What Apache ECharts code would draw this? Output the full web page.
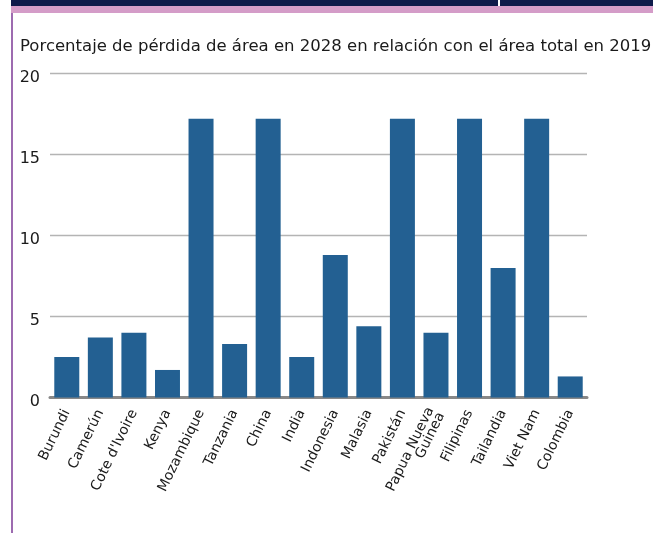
<!DOCTYPE html>
<html>
<head>
<meta charset="utf-8">
<style>
  html, body { margin: 0; padding: 0; background: #fff; }
  #chart { width: 653px; height: 533px; }
</style>
<script src="https://cdn.jsdelivr.net/npm/echarts@6/dist/echarts.min.js"></script>
</head>
<body>
<div id="chart"></div>
<script>
// Países evaluados
const categories = [
  'Burundi', 'Camerún', "Cote d'Ivoire", 'Kenya', 'Mozambique', 'Tanzania',
  'China', 'India', 'Indonesia', 'Malasia', 'Pakistán', 'Papua Nueva\nGuinea',
  'Filipinas', 'Tailandia', 'Viet Nam', 'Colombia'
];

// Pérdida de área en 2028 (% del área total en 2019)
const lossPercent = [2.5, 3.7, 4.0, 1.7, 17.2, 3.3, 17.2, 2.5, 8.8, 4.4, 17.2, 4.0, 17.2, 8.0, 17.2, 1.3];

// Marcas del eje vertical
const yTicks = [0, 5, 10, 15, 20];

const FONT = '"DejaVu Sans", "Open Sans", sans-serif';

const chart = echarts.init(document.getElementById('chart'), null, { renderer: 'canvas' });

chart.setOption({
  animation: false,
  backgroundColor: '#ffffff',
  title: {
    text: 'Porcentaje de pérdida de área en 2028 en relación con el área total en 2019',
    left: 15,
    top: 33,
    textStyle: { fontFamily: FONT, fontSize: 16.5, fontWeight: 'normal', color: '#1a1a1a' }
  },
  graphic: [
    // banda superior
    { type: 'rect', shape: { x: 11, y: 0, width: 642, height: 6 }, style: { fill: '#0e1a4a' }, silent: true },
    { type: 'rect', shape: { x: 11, y: 6, width: 642, height: 7 }, style: { fill: '#d49cc8' }, silent: true },
    // borde lateral
    { type: 'rect', shape: { x: 11, y: 13, width: 2, height: 520 }, style: { fill: '#9d6bb0' }, silent: true },
    // trazo del encabezado cortado
    { type: 'rect', shape: { x: 498, y: 0, width: 2, height: 6 }, style: { fill: '#ffffff' }, silent: true }
  ],
  grid: { left: 50, right: 66, top: 73.5, bottom: 135.5 },
  xAxis: {
    type: 'category',
    data: categories,
    axisLine: { show: true, lineStyle: { color: '#888888', width: 3 } },
    axisTick: { show: false },
    axisLabel: {
      interval: 0,
      rotate: 64,
      margin: 13,
      fontFamily: FONT,
      fontSize: 14,
      lineHeight: 12,
      color: '#1a1a1a'
    }
  },
  yAxis: {
    type: 'value',
    min: yTicks[0],
    max: yTicks[yTicks.length - 1],
    interval: yTicks[1] - yTicks[0],
    axisLine: { show: false },
    axisTick: { show: false },
    splitLine: { lineStyle: { color: '#b4b4b4', width: 1.3 } },
    axisLabel: {
      margin: 10,
      verticalAlign: 'top',
      padding: [-4, 0, 0, 0],
      fontFamily: FONT,
      fontSize: 16,
      color: '#1a1a1a',
      formatter: (v) => (yTicks.includes(v) ? String(v) : '')
    }
  },
  series: [{
    type: 'bar',
    data: lossPercent,
    barWidth: 25,
    itemStyle: { color: '#236092' },
    z: 1
  }]
});
</script>
</body>
</html>
